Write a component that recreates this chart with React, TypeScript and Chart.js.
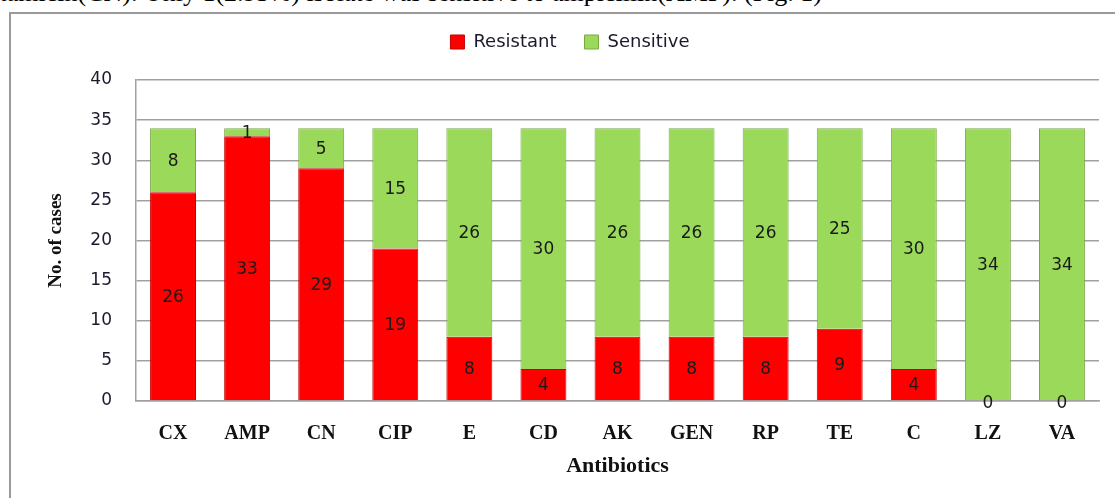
import React, { useEffect, useRef } from "react";
import { Chart, registerables } from "chart.js";

Chart.register(...registerables);

const categories = ["CX", "AMP", "CN", "CIP", "E", "CD", "AK", "GEN", "RP", "TE", "C", "LZ", "VA"];
const resistant = [26, 33, 29, 19, 8, 4, 8, 8, 8, 9, 4, 0, 0];
const sensitive = [8, 1, 5, 15, 26, 30, 26, 26, 26, 25, 30, 34, 34];
const seriesNames = ["Resistant", "Sensitive"];
const yMin = 0;
const yMax = 40;
const yStep = 5;
const topText = "gentamicin(CN). Only 1(2.93%) isolate was sensitive to ampicillin(AMP). (Fig. 1)";

const segLabels = {
  id: "segLabels",
  afterDatasetsDraw(chart: any) {
    const ctx = chart.ctx;
    ctx.save();
    ctx.font = "17px 'DejaVu Sans'";
    ctx.fillStyle = "#1a1a1a";
    ctx.textAlign = "center";
    ctx.textBaseline = "middle";
    chart.data.datasets.forEach((ds: any, i: number) => {
      const meta = chart.getDatasetMeta(i);
      meta.data.forEach((el: any, j: number) => {
        const v = ds.data[j];
        const p = el.getProps(["x", "y", "base"], true);
        ctx.fillText(String(v), p.x, (p.y + p.base) / 2 + (v === 0 ? 3 : 1));
      });
    });
    ctx.restore();
  },
};

const legendHeight = {
  id: "legendHeight",
  beforeInit(chart: any) {
    const lg = chart.legend;
    if (!lg) return;
    const orig = lg.fit.bind(lg);
    lg.fit = function () {
      orig();
      this.height = 75;
    };
  },
};

export default function App() {
  const ref = useRef<HTMLCanvasElement | null>(null);

  useEffect(() => {
    if (!ref.current) return;
    const chart = new Chart(ref.current, {
      type: "bar",
      data: {
        labels: categories,
        datasets: [
          {
            label: seriesNames[0],
            data: resistant,
            backgroundColor: "#fe0000",
            borderColor: "#c40000",
            borderWidth: 1,
            categoryPercentage: 1,
            barPercentage: 0.62,
          },
          {
            label: seriesNames[1],
            data: sensitive,
            backgroundColor: "#9bd95a",
            borderColor: "#78a845",
            borderWidth: 1,
            categoryPercentage: 1,
            barPercentage: 0.62,
          },
        ],
      },
      options: {
        responsive: false,
        animation: false,
        layout: { padding: { left: 41, right: 16, top: 5, bottom: 14 } },
        plugins: {
          legend: {
            position: "top",
            labels: {
              boxWidth: 14,
              boxHeight: 14,
              padding: 28,
              color: "#1a1a2e",
              font: { family: "'DejaVu Sans'", size: 18 },
            },
          },
          tooltip: { enabled: false },
        },
        scales: {
          x: {
            stacked: true,
            grid: { display: false, drawTicks: false },
            border: { display: true, color: "#a0a0a0", width: 1.5 },
            ticks: {
              padding: 21,
              color: "#111",
              font: { family: "'Liberation Serif'", size: 20, weight: "bold" },
            },
            title: {
              display: true,
              text: "Antibiotics",
              color: "#111",
              font: { family: "'Liberation Serif'", size: 22, weight: "bold" },
            },
            afterFit: (s: any) => {
              s.height = 83;
            },
          },
          y: {
            stacked: true,
            min: yMin,
            max: yMax,
            ticks: {
              stepSize: yStep,
              padding: 24,
              color: "#1a1a2e",
              font: { family: "'DejaVu Sans'", size: 17 },
            },
            grid: { color: "#a0a0a0", lineWidth: 1.5, drawTicks: false },
            border: { display: true, color: "#a0a0a0", width: 1.5 },
            title: {
              display: true,
              text: "No. of cases",
              color: "#111",
              font: { family: "'Liberation Serif'", size: 19, weight: "bold" },
            },
            afterFit: (s: any) => {
              s.width = 95;
            },
          },
        },
      },
      plugins: [segLabels, legendHeight],
    });
    return () => chart.destroy();
  }, []);

  return (
    <div style={{ position: "fixed", left: 0, top: 0, width: 1115, height: 498, overflow: "hidden", background: "#fff" }}>
      <div
        style={{
          position: "absolute",
          right: 1115 - 822,
          top: -20,
          whiteSpace: "nowrap",
          fontFamily: "'Liberation Serif', serif",
          fontSize: 26,
          lineHeight: "26px",
          color: "#000",
        }}
      >
        {topText}
      </div>
      <div
        style={{
          position: "absolute",
          left: 9,
          top: 12,
          width: 1200,
          height: 700,
          border: "2px solid #9a9a9a",
          boxSizing: "border-box",
        }}
      />
      <canvas ref={ref} width={1115} height={498} style={{ position: "absolute", left: 0, top: 0 }} />
    </div>
  );
}
